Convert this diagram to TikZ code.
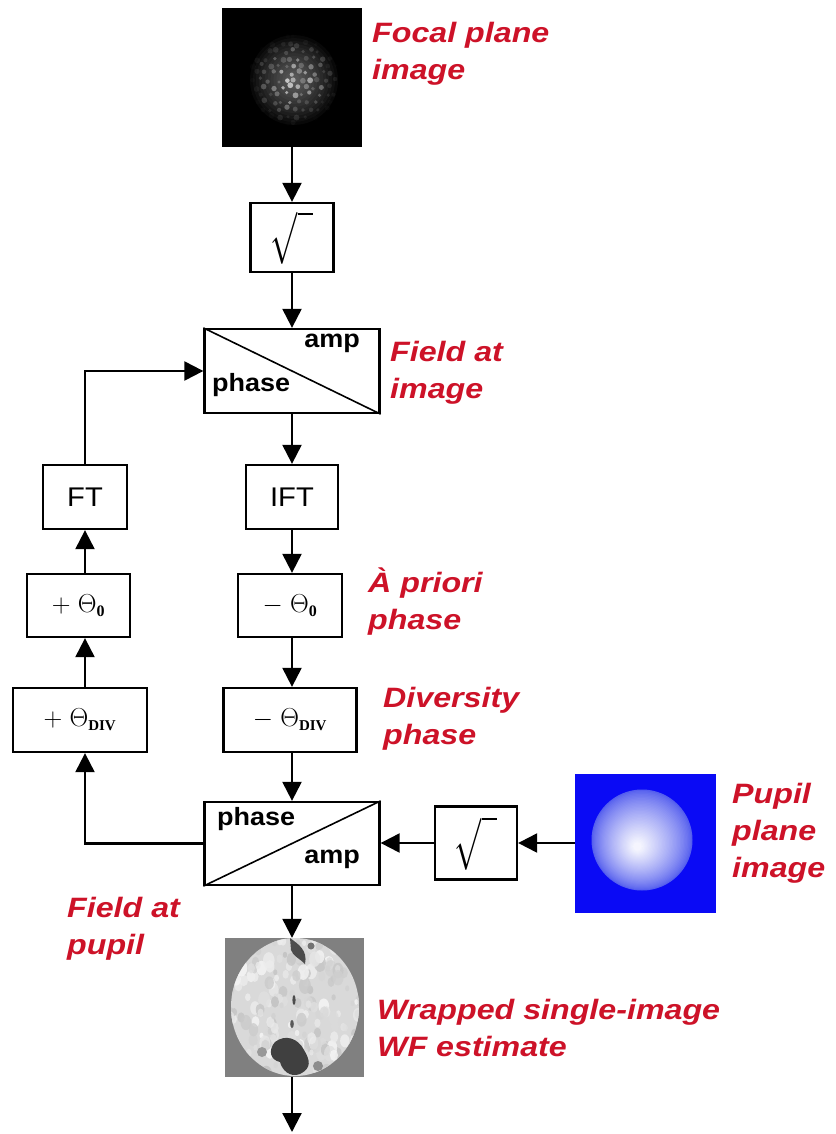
\RequirePackage{fix-cm}
\documentclass[tikz,border=0pt]{standalone}
\usepackage{fontspec}
\usepackage{graphicx}
\setmainfont{Liberation Sans}
\newfontfamily\redfont[FakeStretch=1.15]{Liberation Sans}
\newfontfamily\blkfont[FakeStretch=1.08]{Liberation Sans}
\newfontfamily\serifb{Liberation Serif}
\usetikzlibrary{arrows.meta}
\definecolor{lblred}{RGB}{205,18,40}
\definecolor{pblue}{RGB}{10,10,245}
\definecolor{edgeb}{RGB}{85,95,238}
\newcommand{\subdiv}{\mbox{\fontsize{15}{15}\selectfont\serifb\bfseries DIV}}
\newcommand{\subzero}{\mbox{\fontsize{16}{16}\selectfont\serifb\bfseries 0}}
\begin{document}
\begin{tikzpicture}[x=1pt,y=-1pt,
  blk/.style={draw, line width=2.3pt, inner sep=0pt, fill=white},
  img/.style={inner sep=0pt, draw=none},
  arr/.style={line width=2.2pt, -{Triangle[length=19pt,width=19pt]}},
  lbl/.style={text=lblred, font=\redfont\bfseries\itshape\fontsize{28}{37}\selectfont, align=left, anchor=north west, inner sep=0pt},
  sub/.style={font=\blkfont\bfseries\fontsize{25}{25}\selectfont, inner sep=0pt},
  op/.style={font=\blkfont\fontsize{27}{27}\selectfont},
  th/.style={font=\fontsize{26}{26}\selectfont},
  rad/.style={font=\fontsize{52}{52}\selectfont}
]
\useasboundingbox (0,0) rectangle (835,1134);
\fill[white] (0,0) rectangle (835,1134);

% ---------- focal plane image ----------
\node[img, fill=black, minimum width=140, minimum height=139] (focal) at (292,77.5) {};
\begin{scope}
  \clip (focal.south west) rectangle (focal.north east);
  \foreach \k in {0,...,14}{
    \pgfmathsetmacro\rr{44*(1-\k/15)}
    \fill[white, opacity=0.03] (294,80) ellipse [x radius=\rr, y radius=\rr*1.02];
  }
  \pgfmathsetseed{7}
  \foreach \i in {-6,...,6}{
    \foreach \j in {-6,...,6}{
      \pgfmathsetmacro\xx{294+8.2*\i+4.1*abs(mod(\j,2))+2*rand}
      \pgfmathsetmacro\yy{80+7.2*\j+2*rand}
      \pgfmathsetmacro\rr{sqrt((\xx-294)^2+(\yy-80)^2)}
      \pgfmathsetmacro\op{max(0,1-\rr/45)*(0.25+0.6*rnd)}
      \pgfmathsetmacro\sz{1.6+1.4*rnd}
      \fill[white, opacity=\op] (\xx,\yy) circle (\sz);
    }
  }
\end{scope}

% ---------- main column ----------
\node[blk, minimum width=83, minimum height=69] (sq1) at (292,237.5) {};
\node[rad] (sq1t) at (sq1) {\scalebox{0.62}[1]{$\sqrt{\hphantom{o}}$}};

\node[blk, minimum width=175, minimum height=84] (fimg) at (292,371) {};
\draw[line width=1.6pt] (fimg.north west) -- (fimg.south east);
\node[sub, anchor=base east] (fimgamp) at (360,347) {amp};
\node[sub, anchor=base west] (fimgph) at (212,391) {phase};

\node[blk, minimum width=92, minimum height=64] (ift) at (292,497) {};
\node[op] (iftt) at (ift) {IFT};

\node[blk, minimum width=104, minimum height=63] (m0) at (290,605.5) {};
\node[th] (m0t) at (m0) {$-\;\Theta_{\subzero}$};

\node[blk, minimum width=133, minimum height=64] (mdiv) at (290,720) {};
\node[th] (mdivt) at (mdiv) {$-\;\Theta_{\subdiv}$};

\node[blk, minimum width=175, minimum height=83] (fpup) at (292,843.5) {};
\draw[line width=1.6pt] (fpup.south west) -- (fpup.north east);
\node[sub, anchor=base west] (fpupph) at (217,825) {phase};
\node[sub, anchor=base east] (fpupamp) at (360,863) {amp};

% ---------- WF estimate image ----------
\node[img, fill=black!50, minimum width=139, minimum height=139] (wf) at (294,1007.5) {};
\begin{scope}
  \clip (295,1007) ellipse [x radius=64, y radius=69];
  \fill[black!15] (wf.south west) rectangle (wf.north east);
  \pgfmathsetseed{11}
  \foreach \k in {1,...,220}{
    \pgfmathsetmacro\xx{228+136*rnd}
    \pgfmathsetmacro\yy{940+136*rnd}
    \pgfmathsetmacro\gg{3+22*rnd}
    \pgfmathsetmacro\rs{2+4*rnd}
    \fill[black!\gg, opacity=0.8] (\xx,\yy) ellipse [x radius=\rs, y radius=\rs*1.4];
  }
  % dark patches
  \fill[black!70] (290,938) .. controls (298,944) and (308,950) .. (305,964) .. controls (299,958) and (293,956) .. (291,950) -- cycle;
  \fill[black!55] (311,946) circle (3.5);
  \fill[black!75] (275,1042) .. controls (285,1034) and (298,1038) .. (304,1050) .. controls (310,1060) and (312,1068) .. (300,1074) .. controls (290,1078) and (282,1070) .. (280,1062) .. controls (270,1060) and (268,1050) .. (275,1042) -- cycle;
  \fill[black!40] (262,1052) circle (5);
  \fill[black!45] (318,1066) circle (5);
  \fill[black!70] (294,1000) ellipse [x radius=1.6, y radius=5];
  \fill[black!65] (292,1024) ellipse [x radius=1.8, y radius=4];
\end{scope}

\coordinate (out) at (292,1132);

% ---------- left column ----------
\node[blk, minimum width=84, minimum height=64] (ft) at (85,497) {};
\node[op] (ftt) at (ft) {FT};

\node[blk, minimum width=103, minimum height=63] (p0) at (78.5,605.5) {};
\node[th] (p0t) at (p0) {$+\;\Theta_{\subzero}$};

\node[blk, minimum width=134, minimum height=64] (pdiv) at (80,720) {};
\node[th] (pdivt) at (pdiv) {$+\;\Theta_{\subdiv}$};

% ---------- right side ----------
\node[blk, minimum width=82, minimum height=73] (sq2) at (476,843) {};
\node[rad] (sq2t) at (sq2) {\scalebox{0.62}[1]{$\sqrt{\hphantom{o}}$}};

\node[img, fill=pblue, minimum width=141, minimum height=139] (pupil) at (645.5,843) {};
\foreach \k in {0,...,40}{
  \pgfmathsetmacro\t{\k/40}
  \pgfmathsetmacro\rr{50*(1-\t)+0.5}
  \pgfmathsetmacro\cx{642-5*\t}
  \pgfmathsetmacro\cy{840+7*\t}
  \pgfmathsetmacro\pc{min(94,100*\t^0.8)}
  \fill[white!\pc!edgeb] (\cx,\cy) circle (\rr);
}

% ---------- connectors ----------
\draw[arr] (focal.south) -- (sq1.north);
\draw[arr] (sq1.south) -- (fimg.north);
\draw[arr] (fimg.south) -- (ift.north);
\draw[arr] (ift.south) -- (ift.south |- m0.north);
\draw[arr] (m0.south -| ift.south) -- (ift.south |- mdiv.north);
\draw[arr] (mdiv.south -| ift.south) -- (fpup.north);
\draw[arr] (fpup.south) -- (wf.north -| fpup.south);
\draw[arr] (wf.south -| fpup.south) -- (out);

\draw[arr] (fpup.west) -| (pdiv.south -| ft.south);
\draw[arr] (pdiv.north -| ft.south) -- (p0.south -| ft.south);
\draw[arr] (p0.north -| ft.south) -- (ft.south);
\draw[arr] (ft.north) |- (fimg.west);

\draw[arr] (pupil.west) -- (sq2.east);
\draw[arr] (sq2.west) -- (sq2.west -| fpup.east);

% ---------- red labels ----------
\node[lbl] (lfocal) at (372,22.5) {Focal plane\\image};
\node[lbl] (lfimg) at (390,341) {Field at\\image};
\node[lbl] (lprior) at (368,567.5) {À priori\\phase};
\node[lbl] (ldiv) at (383,687.5) {Diversity\\phase};
\node[lbl] (lpupil) at (732,783) {Pupil\\plane\\image};
\node[lbl] (lfpup) at (67,897) {Field at\\pupil};
\node[lbl] (lwf) at (377,999) {Wrapped single-image\\WF estimate};
\end{tikzpicture}
\end{document}
